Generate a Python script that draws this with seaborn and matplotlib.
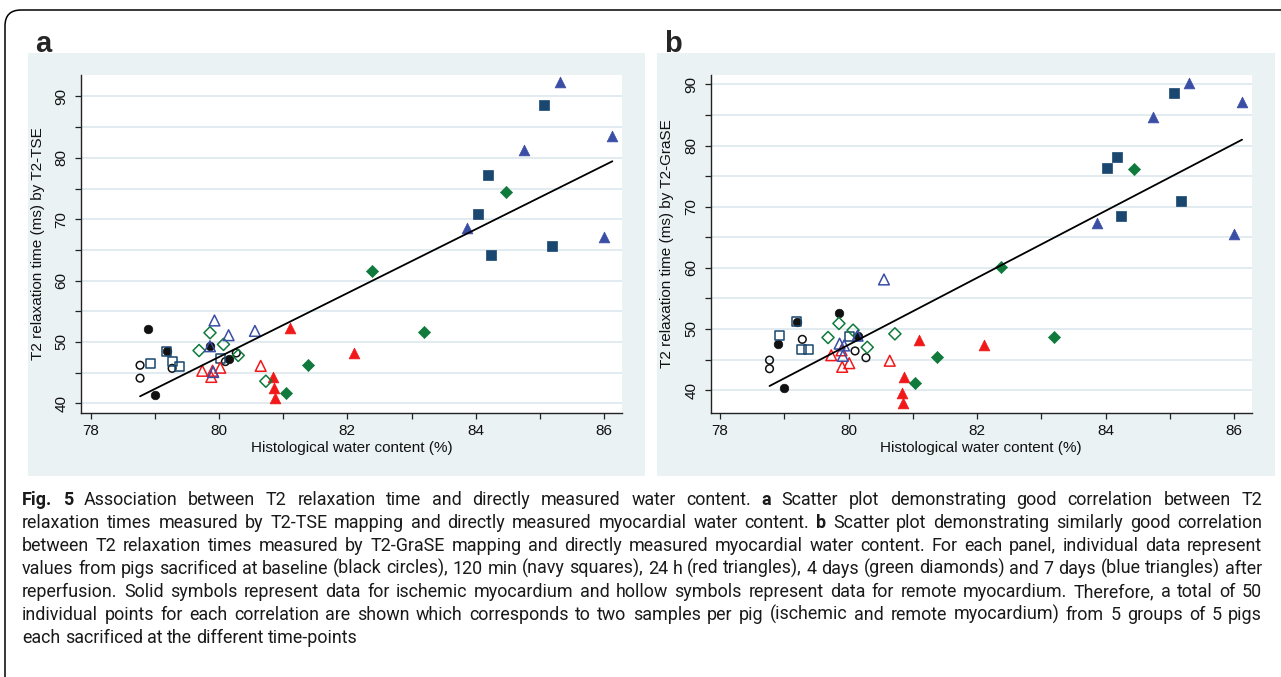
import numpy as np
import matplotlib
matplotlib.use("Agg")
import matplotlib.pyplot as plt
from matplotlib.patches import Rectangle, FancyBboxPatch
from matplotlib.transforms import IdentityTransform
from matplotlib.ticker import MultipleLocator
from matplotlib import font_manager
import seaborn as sns

# ---------------- data: panel a (T2-TSE) ----------------
a_base_isch_x = [78.90, 79.00, 79.19, 79.86, 80.16]
a_base_isch_y = [52.1, 41.4, 48.6, 49.3, 47.3]
a_base_rem_x = [78.77, 78.77, 79.27, 80.10, 80.27]
a_base_rem_y = [46.2, 44.1, 45.7, 46.8, 48.2]
a_120_isch_x = [85.07, 84.19, 84.04, 84.24, 85.19]
a_120_isch_y = [88.6, 77.2, 70.8, 64.1, 65.7]
a_120_rem_x = [78.93, 79.19, 79.28, 79.38, 80.02]
a_120_rem_y = [46.5, 48.5, 46.8, 46.0, 47.3]
a_24h_isch_x = [81.10, 82.11, 80.84, 80.86, 80.87]
a_24h_isch_y = [52.2, 48.2, 44.3, 42.5, 40.8]
a_24h_rem_x = [79.74, 79.90, 79.88, 80.02, 80.65]
a_24h_rem_y = [45.3, 45.3, 44.3, 45.8, 46.1]
a_4d_isch_x = [84.47, 82.38, 83.20, 81.38, 81.05]
a_4d_isch_y = [74.5, 61.5, 51.6, 46.2, 41.7]
a_4d_rem_x = [79.69, 79.86, 80.07, 80.30, 80.73]
a_4d_rem_y = [48.6, 51.5, 49.6, 47.8, 43.6]
a_7d_isch_x = [85.31, 86.13, 84.75, 83.87, 86.00]
a_7d_isch_y = [92.3, 83.5, 81.3, 68.6, 67.1]
a_7d_rem_x = [79.93, 80.15, 80.56, 79.91, 79.86]
a_7d_rem_y = [53.5, 51.1, 51.8, 45.1, 49.3]

# ---------------- data: panel b (T2-GraSE) ----------------
b_base_isch_x = [79.85, 79.19, 78.90, 78.99, 80.14]
b_base_isch_y = [52.6, 51.1, 47.6, 40.4, 48.9]
b_base_rem_x = [78.77, 78.77, 79.28, 80.10, 80.27]
b_base_rem_y = [44.9, 43.5, 48.3, 46.4, 45.3]
b_120_isch_x = [85.06, 84.17, 84.02, 84.23, 85.17]
b_120_isch_y = [88.6, 78.1, 76.4, 68.5, 70.9]
b_120_rem_x = [78.92, 79.19, 79.26, 79.38, 80.01]
b_120_rem_y = [48.9, 51.3, 46.7, 46.7, 48.7]
b_24h_isch_x = [82.11, 81.09, 80.86, 80.83, 80.85]
b_24h_isch_y = [47.3, 48.2, 42.2, 39.6, 37.9]
b_24h_rem_x = [79.73, 79.90, 80.01, 80.64, 79.89]
b_24h_rem_y = [45.7, 43.8, 44.4, 44.8, 46.5]
b_4d_isch_x = [84.44, 82.37, 83.19, 81.37, 81.04]
b_4d_isch_y = [76.2, 60.2, 48.7, 45.4, 41.2]
b_4d_rem_x = [79.68, 79.85, 80.07, 80.29, 80.72]
b_4d_rem_y = [48.6, 50.9, 49.8, 47.0, 49.2]
b_7d_isch_x = [85.30, 86.12, 84.73, 83.86, 85.99]
b_7d_isch_y = [90.3, 87.2, 84.7, 67.4, 65.5]
b_7d_rem_x = [80.55, 79.86, 79.93, 79.91, 80.14]
b_7d_rem_y = [58.1, 47.6, 47.3, 45.6, 48.9]

x_ticks = [78, 80, 82, 84, 86]
y_ticks = [40, 50, 60, 70, 80, 90]
x_label = "Histological water content (%)"
y_label_a = "T2 relaxation time (ms) by T2-TSE"
y_label_b = "T2 relaxation time (ms) by T2-GraSE"

caption_lines = [
    [("Fig. 5", "bold"), ("Association between T2 relaxation time and directly measured water content.", "normal"),
     ("a", "bold"), ("Scatter plot demonstrating good correlation between T2", "normal")],
    [("relaxation times measured by T2-TSE mapping and directly measured myocardial water content.", "normal"),
     ("b", "bold"), ("Scatter plot demonstrating similarly good correlation", "normal")],
    [("between T2 relaxation times measured by T2-GraSE mapping and directly measured myocardial water content. For each panel, individual data represent", "normal")],
    [("values from pigs sacrificed at baseline (black circles), 120 min (navy squares), 24 h (red triangles), 4 days (green diamonds) and 7 days (blue triangles) after", "normal")],
    [("reperfusion. Solid symbols represent data for ischemic myocardium and hollow symbols represent data for remote myocardium. Therefore, a total of 50", "normal")],
    [("individual points for each correlation are shown which corresponds to two samples per pig (ischemic and remote myocardium) from 5 groups of 5 pigs", "normal")],
    [("each sacrificed at the different time-points", "normal")],
]

# ---------------- style ----------------
W, H = 1281, 677
sns.set_style("white")
plt.rcParams["font.family"] = ["Liberation Sans", "DejaVu Sans"]

BLACK = "#111111"
NAVY = "#1a476f"
RED = "#f01818"
GREEN = "#0f7a3c"
BLUE = "#3a4ea6"
PANEL_BG = "#eaf2f4"
GRID = "#e2ebef"

fig = plt.figure(figsize=(W / 100, H / 100), dpi=100)
fig.patch.set_facecolor("white")


def fx(px):
    return px / W


def fy(py):
    return 1 - py / H


# panel backgrounds
for x0, x1 in [(28, 645), (657, 1275)]:
    fig.add_artist(Rectangle((fx(x0), fy(476)), fx(x1) - fx(x0), fy(53) - fy(476),
                             transform=fig.transFigure, facecolor=PANEL_BG, edgecolor="none", zorder=0))

# outer frame
fig.add_artist(FancyBboxPatch((5, -40), 1400, (H - 10) + 40, boxstyle="round,pad=0,rounding_size=16",
                              transform=IdentityTransform(), facecolor="none", edgecolor="black",
                              linewidth=1.1, zorder=0.5))

ax_a = fig.add_axes([fx(81), fy(412.7), fx(622) - fx(81), fy(75) - fy(412.7)])
ax_b = fig.add_axes([fx(710.7), fy(412.7), fx(1251.7) - fx(710.7), fy(75) - fy(412.7)])

S_CIRC = 38
S_SQ = 42
S_TRI = 60
S_DIA = 38
LW = 1.1


def draw(ax, g, ylabel, xlim, ylim):
    groups = [
        (g["base_isch"], "o", BLACK, True, S_CIRC),
        (g["base_rem"], "o", BLACK, False, S_CIRC * 0.8),
        (g["120_isch"], "s", NAVY, True, S_SQ),
        (g["120_rem"], "s", NAVY, False, S_SQ),
        (g["24h_isch"], "^", RED, True, S_TRI),
        (g["24h_rem"], "^", RED, False, S_TRI),
        (g["4d_isch"], "D", GREEN, True, S_DIA),
        (g["4d_rem"], "D", GREEN, False, S_DIA),
        (g["7d_isch"], "^", BLUE, True, S_TRI),
        (g["7d_rem"], "^", BLUE, False, S_TRI),
    ]
    all_x, all_y = [], []
    for (xs, ys), m, c, filled, s in groups:
        all_x += list(xs)
        all_y += list(ys)
        if filled:
            sns.scatterplot(x=xs, y=ys, marker=m, s=s, color=c, edgecolor=c, linewidth=0.5, ax=ax, zorder=3)
        else:
            sns.scatterplot(x=xs, y=ys, marker=m, s=s, facecolor="none", edgecolor=c, linewidth=LW,
                            ax=ax, zorder=3)
    sns.regplot(x=np.array(all_x), y=np.array(all_y), scatter=False, ci=None, truncate=True,
                color="black", line_kws={"linewidth": 1.3, "zorder": 4}, ax=ax)

    ax.set_facecolor("white")
    ax.set_xlim(*xlim)
    ax.set_ylim(*ylim)
    ax.set_xticks(x_ticks)
    ax.set_xticklabels([str(t) for t in x_ticks])
    ax.xaxis.set_minor_locator(MultipleLocator(1))
    ax.set_yticks(y_ticks)
    ax.set_yticklabels([str(t) for t in y_ticks], rotation=90, va="center")
    ax.yaxis.set_minor_locator(MultipleLocator(5))
    ax.grid(False)
    ax.yaxis.grid(True, which="both", color=GRID, linewidth=1.4, zorder=0)
    ax.set_axisbelow(True)
    for sp in ["top", "right"]:
        ax.spines[sp].set_visible(False)
    for sp in ["left", "bottom"]:
        ax.spines[sp].set_color("#222222")
        ax.spines[sp].set_linewidth(1.0)
    ax.tick_params(axis="both", which="both", direction="out", length=4, width=0.9, color="#222222",
                   labelsize=11, labelcolor="#111111", bottom=True, left=True)
    ax.tick_params(axis="y", which="major", pad=5)
    ax.tick_params(axis="x", which="major", pad=4)
    ax.set_xlabel(x_label, fontsize=11, labelpad=2, color="#111111")
    ax.set_ylabel(ylabel, fontsize=11, labelpad=7, color="#111111")


ga = {
    "base_isch": (a_base_isch_x, a_base_isch_y), "base_rem": (a_base_rem_x, a_base_rem_y),
    "120_isch": (a_120_isch_x, a_120_isch_y), "120_rem": (a_120_rem_x, a_120_rem_y),
    "24h_isch": (a_24h_isch_x, a_24h_isch_y), "24h_rem": (a_24h_rem_x, a_24h_rem_y),
    "4d_isch": (a_4d_isch_x, a_4d_isch_y), "4d_rem": (a_4d_rem_x, a_4d_rem_y),
    "7d_isch": (a_7d_isch_x, a_7d_isch_y), "7d_rem": (a_7d_rem_x, a_7d_rem_y),
}
gb = {
    "base_isch": (b_base_isch_x, b_base_isch_y), "base_rem": (b_base_rem_x, b_base_rem_y),
    "120_isch": (b_120_isch_x, b_120_isch_y), "120_rem": (b_120_rem_x, b_120_rem_y),
    "24h_isch": (b_24h_isch_x, b_24h_isch_y), "24h_rem": (b_24h_rem_x, b_24h_rem_y),
    "4d_isch": (b_4d_isch_x, b_4d_isch_y), "4d_rem": (b_4d_rem_x, b_4d_rem_y),
    "7d_isch": (b_7d_isch_x, b_7d_isch_y), "7d_rem": (b_7d_rem_x, b_7d_rem_y),
}

draw(ax_a, ga, y_label_a, (77.85, 86.28), (38.47, 93.5))
draw(ax_b, gb, y_label_b, (77.855, 86.27), (36.3, 91.55))

# panel letters
fig.text(fx(35), fy(52), "a", fontsize=21, fontweight="bold", ha="left", va="baseline")
fig.text(fx(664), fy(52), "b", fontsize=21, fontweight="bold", ha="left", va="baseline")

# caption: justified lines of words
renderer = fig.canvas.get_renderer()
installed = {f.name for f in font_manager.fontManager.ttflist}
CAP_FONT = ["Liberation Sans Narrow", "Roboto"] if "Liberation Sans Narrow" in installed else ["Roboto", "DejaVu Sans"]
LEFT, RIGHT = 22, 1262


def words_of(segs):
    out = []
    for txt, wt in segs:
        for w in txt.split(" "):
            if w:
                out.append((w, wt))
    return out


def measure(txt, wt, size):
    t = fig.text(0, 0, txt, fontsize=size, fontweight=wt, family=CAP_FONT)
    w = t.get_window_extent(renderer).width
    t.remove()
    return w


base_size = 12.0
space_w = measure("a a", "normal", base_size) - 2 * measure("a", "normal", base_size)
widest = 0
for segs in caption_lines:
    ws = words_of(segs)
    tot = sum(measure(w, wt, base_size) for w, wt in ws) + space_w * (len(ws) - 1)
    widest = max(widest, tot)
cap_size = min(13.2, base_size * (RIGHT - LEFT) / widest * 0.995)

for i, segs in enumerate(caption_lines):
    ws = words_of(segs)
    widths = [measure(w, wt, cap_size) for w, wt in ws]
    sp = measure("a a", "normal", cap_size) - 2 * measure("a", "normal", cap_size)
    if i < len(caption_lines) - 1 and len(ws) > 1:
        sp = (RIGHT - LEFT - sum(widths)) / (len(ws) - 1)
    xpix = LEFT
    ypix = 505 + 23 * i
    for (w, wt), wd in zip(ws, widths):
        fig.text(fx(xpix), fy(ypix), w, fontsize=cap_size, fontweight=wt, family=CAP_FONT,
                 ha="left", va="baseline", color="#1a1a1a")
        xpix += wd + sp

fig.savefig("out.png", dpi=100)
